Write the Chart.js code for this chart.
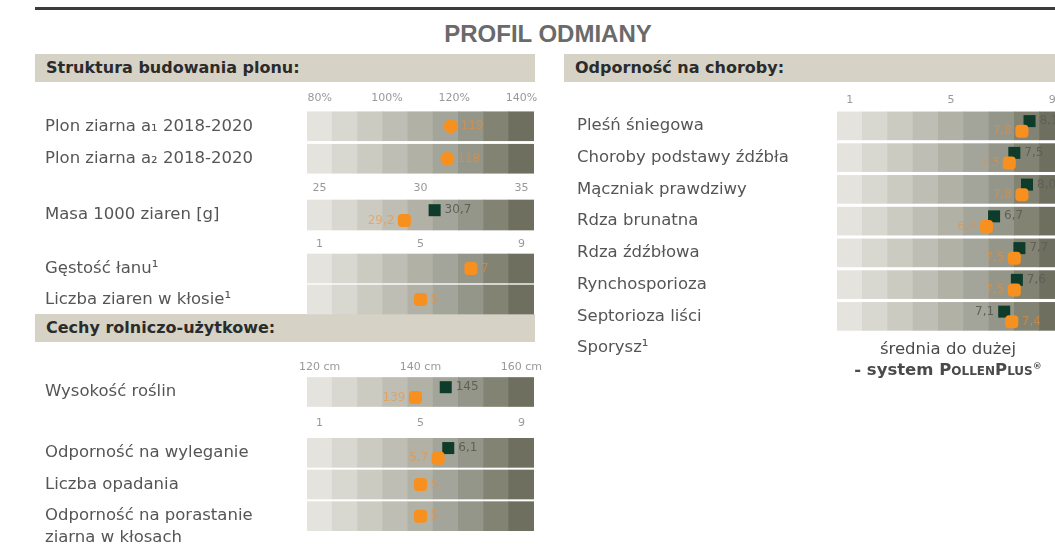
<!DOCTYPE html>
<html lang="pl">
<head>
<meta charset="utf-8">
<title>Profil odmiany</title>
<script src="https://cdn.jsdelivr.net/npm/chart.js@4.4.1/dist/chart.umd.min.js"></script>
<style>
  html, body { margin: 0; padding: 0; }
  body { width: 1055px; height: 547px; overflow: hidden; position: relative; background: #fff;
         font-family: "DejaVu Sans", "Liberation Sans", sans-serif; }
  .rule { position: absolute; left: 35px; top: 7px; width: 1020px; height: 3px; background: #3b3b3b; }
  .title { position: absolute; left: 0; width: 1096px; top: 20px; text-align: center;
           font-family: "Liberation Sans", Arial, sans-serif; font-size: 24px; font-weight: bold; color: #6a6a6a; }
  .band { position: absolute; height: 28px; line-height: 28px; background: #d6d3c6; font-weight: bold;
          font-size: 16px; color: #2b2b2b; padding-left: 11px; box-sizing: border-box; }
  canvas { position: absolute; }
  .note { position: absolute; left: 840px; width: 216px; text-align: center; color: #4a4a4a; font-size: 16.5px; }
  .note .sc { font-variant: small-caps; }
</style>
</head>
<body>
<div class="rule"></div>
<div class="title">PROFIL ODMIANY</div>
<div class="band" style="left:35px;top:54px;width:500px">Struktura budowania plonu:</div>
<div class="band" style="left:564px;top:54px;width:491px">Odporność na choroby:</div>
<div class="band" style="left:35px;top:314px;width:500px">Cechy rolniczo-użytkowe:</div>

<canvas id="plon"></canvas>
<canvas id="masa"></canvas>
<canvas id="struktura"></canvas>
<canvas id="wysokosc"></canvas>
<canvas id="cechy"></canvas>
<canvas id="choroby"></canvas>

<div class="note" style="top:339px">średnia do dużej</div>
<div class="note" style="top:360px"><b>- system <span class="sc">PollenPlus</span><sup style="font-size:9px">®</sup></b></div>

<script>
// values
const plonLabels = ['Plon ziarna a₁ 2018-2020', 'Plon ziarna a₂ 2018-2020'];
const plonTicks = [80, 100, 120, 140];
const plonOrange = [119, 118];

const masaLabels = ['Masa 1000 ziaren [g]'];
const masaTicks = [25, 30, 35];
const masaOrange = [29.2];
const masaGreen = [30.7];

const strukturaLabels = ['Gęstość łanu¹', 'Liczba ziaren w kłosie¹'];
const scoreTicks = [1, 5, 9];
const strukturaOrange = [7, 5];

const wysokoscLabels = ['Wysokość roślin'];
const wysokoscTicks = [120, 140, 160];
const wysokoscOrange = [139];
const wysokoscGreen = [145];

const cechyLabels = ['Odporność na wyleganie', 'Liczba opadania', ['Odporność na porastanie', 'ziarna w kłosach']];
const cechyOrange = [5.7, 5, 5];
const cechyGreen = [6.1, null, null];

const chorobyLabels = ['Pleśń śniegowa', 'Choroby podstawy źdźbła', 'Mączniak prawdziwy', 'Rdza brunatna',
  'Rdza źdźbłowa', 'Rynchosporioza', 'Septorioza liści', 'Sporysz¹'];
const chorobyOrange = [7.8, 7.3, 7.8, 6.4, 7.5, 7.5, 7.4, null];
const chorobyGreen = [8.1, 7.5, 8.0, 6.7, 7.7, 7.6, 7.1, null];

const cellColors = ['#e4e3de', '#d8d7d0', '#cccbc2', '#bfbeb4', '#b2b1a6', '#a4a59a', '#95968a', '#828372', '#6e6f5f'];
const ORANGE = '#f7901e';
const GREEN = '#0e3b2a';
const AXIS_H = 22;

const valueLabels = {
  id: 'valueLabels',
  afterDatasetsDraw(chart) {
    const ctx = chart.ctx;
    ctx.save();
    ctx.font = '12px "DejaVu Sans"';
    ctx.textBaseline = 'middle';
    chart.data.datasets.forEach((ds, di) => {
      if (!ds.sides) return;
      chart.getDatasetMeta(di).data.forEach((el, i) => {
        const v = ds.data[i].x;
        const txt = (ds.decimals != null ? v.toFixed(ds.decimals) : (Number.isInteger(v) ? String(v) : v.toFixed(1))).replace('.', ',');
        const left = ds.sides[i] === 'left';
        ctx.fillStyle = ds.labelColor;
        ctx.textAlign = left ? 'right' : 'left';
        ctx.fillText(txt, el.x + (left ? -10 : 10), el.y);
      });
    });
    ctx.restore();
  }
};

function panel(id, cfg) {
  const canvas = document.getElementById(id);
  const n = cfg.labels.length;
  canvas.width = cfg.axisW + 9 * cfg.cellW + 20;
  canvas.height = AXIS_H + n * cfg.pitch + 30;
  canvas.style.left = cfg.left + 'px';
  canvas.style.top = (cfg.areaTop - AXIS_H) + 'px';

  const first = cfg.ticks[0], last = cfg.ticks[cfg.ticks.length - 1];
  const step = (last - first) / (cellColors.length - 1);
  const green = cfg.green || [];

  const cells = [];
  cfg.orange.forEach((v, row) => {
    if (v == null) return;
    cellColors.forEach((c, k) => cells.push({ x: [first + (k - 0.5) * step, first + (k + 0.5) * step], y: row, k }));
  });

  const orangePts = [], orangeSides = [], greenPts = [], greenSides = [];
  cfg.orange.forEach((v, i) => {
    if (v == null) return;
    const g = green[i];
    orangePts.push({ x: v, y: i + (g != null ? 0.17 : 0) });
    orangeSides.push(g != null && g >= v ? 'left' : 'right');
  });
  green.forEach((v, i) => {
    if (v == null) return;
    greenPts.push({ x: v, y: i - 0.15 });
    greenSides.push(v >= cfg.orange[i] ? 'right' : 'left');
  });

  new Chart(canvas, {
    type: 'bar',
    data: {
      datasets: [
        { type: 'bar', indexAxis: 'y', data: cells, order: 2,
          backgroundColor: c => cellColors[c.raw ? c.raw.k : 0],
          barThickness: cfg.bar, borderWidth: 0, borderSkipped: false },
        { type: 'scatter', data: greenPts, order: 1, pointStyle: 'rect', pointRadius: 8.5,
          backgroundColor: GREEN, borderWidth: 0, sides: greenSides, labelColor: '#5f5f58', decimals: cfg.decimals },
        { type: 'scatter', data: orangePts, order: 0, pointStyle: cfg.dot || 'rectRounded', pointRadius: cfg.dot ? 7 : 7.6,
          backgroundColor: ORANGE, borderWidth: 0, sides: orangeSides, labelColor: 'rgba(246,140,40,0.55)', decimals: cfg.decimals }
      ]
    },
    options: {
      responsive: false,
      animation: false,
      events: [],
      layout: { padding: { right: 20, bottom: 30 } },
      plugins: { legend: { display: false }, tooltip: { enabled: false } },
      scales: {
        x: {
          type: 'linear', position: 'top', offset: false, beginAtZero: false,
          min: first - step / 2, max: last + step / 2,
          afterBuildTicks: s => { s.ticks = cfg.ticks.map(v => ({ value: v })); },
          afterFit: s => { s.height = AXIS_H; s.paddingLeft = 0; s.paddingRight = 0; },
          ticks: { autoSkip: false, maxRotation: 0, padding: cfg.tickPad, color: '#999',
                   font: { family: 'DejaVu Sans', size: 11 }, callback: v => v + (cfg.unit || '') },
          grid: { display: false, drawTicks: false }, border: { display: false }
        },
        y: {
          type: 'linear', reverse: true, offset: false, min: -0.5, max: n - 0.5,
          afterBuildTicks: s => { s.ticks = cfg.labels.map((l, i) => ({ value: i })); },
          afterFit: s => { s.width = cfg.axisW; s.paddingTop = 0; s.paddingBottom = 0; },
          ticks: { autoSkip: false, crossAlign: 'far', padding: 0, color: '#555',
                   font: { family: 'DejaVu Sans', size: 16.5, lineHeight: 1.28 },
                   callback: (v, i) => Array.isArray(cfg.labels[i]) ? [''].concat(cfg.labels[i]) : cfg.labels[i] },
          grid: { display: false }, border: { display: false }
        }
      }
    },
    plugins: [valueLabels]
  });
}

const leftSide = { left: 45, axisW: 262, cellW: 25.33 };
panel('plon', Object.assign({}, leftSide, { labels: plonLabels, ticks: plonTicks, unit: '%', orange: plonOrange,
  dot: 'circle', areaTop: 110, pitch: 32.5, bar: 29, tickPad: 5 }));
panel('masa', Object.assign({}, leftSide, { labels: masaLabels, ticks: masaTicks, orange: masaOrange, green: masaGreen,
  areaTop: 199, pitch: 32, bar: 30, tickPad: 4 }));
panel('struktura', Object.assign({}, leftSide, { labels: strukturaLabels, ticks: scoreTicks, orange: strukturaOrange,
  areaTop: 252.5, pitch: 31, bar: 29, tickPad: 2.5 }));
panel('wysokosc', Object.assign({}, leftSide, { labels: wysokoscLabels, ticks: wysokoscTicks, unit: ' cm',
  orange: wysokoscOrange, green: wysokoscGreen, areaTop: 376, pitch: 32, bar: 29, tickPad: 2.5 }));
panel('cechy', Object.assign({}, leftSide, { labels: cechyLabels, ticks: scoreTicks, orange: cechyOrange, green: cechyGreen,
  areaTop: 436.6, pitch: 31.75, bar: 29, tickPad: 7 }));
panel('choroby', { left: 577, axisW: 260, cellW: 25.4, labels: chorobyLabels, ticks: scoreTicks, orange: chorobyOrange,
  green: chorobyGreen, decimals: 1, areaTop: 110, pitch: 31.8, bar: 28, tickPad: 3.5 });
</script>
</body>
</html>
